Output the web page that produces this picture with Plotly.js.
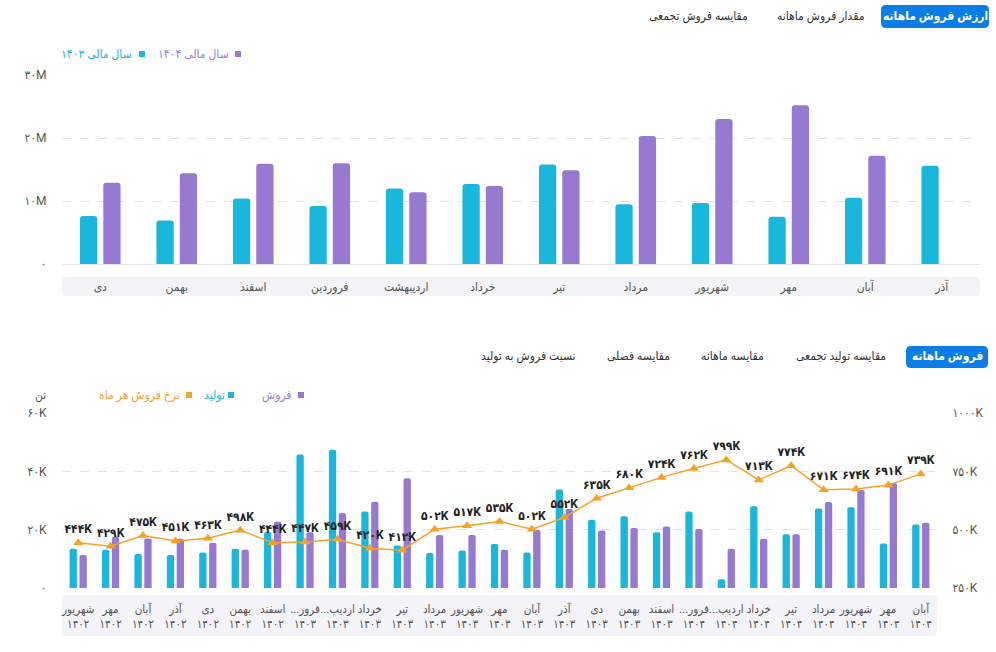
<!DOCTYPE html>
<html>
<head>
<meta charset="utf-8">
<script src="https://cdn.plot.ly/plotly-3.0.1.min.js"></script>
<style>
  html, body { margin: 0; padding: 0; background: #ffffff; }
  #chart { width: 996px; height: 652px; }
</style>
</head>
<body>
<div id="chart"></div>
<script>
// ---- Monthly sales value (million) by fiscal year ----
const valueMonths = ['دی', 'بهمن', 'اسفند', 'فروردین', 'اردیبهشت', 'خرداد', 'تیر', 'مرداد', 'شهریور', 'مهر', 'آبان', 'آذر'];
const value1403 = [7.6, 6.9, 10.4, 9.2, 12.0, 12.7, 15.8, 9.5, 9.7, 7.5, 10.5, 15.6];
const value1404 = [12.9, 14.4, 15.9, 16.0, 11.4, 12.4, 14.9, 20.3, 23.0, 25.2, 17.2, null];
const valueTicks = [0, 10, 20, 30];

// ---- Monthly production / sales (thousand tons) and sales rate ----
const periodMonths = ['شهریور', 'مهر', 'آبان', 'آذر', 'دی', 'بهمن', 'اسفند',
  '...فرور', '...اردیب', 'خرداد', 'تیر', 'مرداد', 'شهریور', 'مهر', 'آبان', 'آذر', 'دی', 'بهمن', 'اسفند',
  '...فرور', '...اردیب', 'خرداد', 'تیر', 'مرداد', 'شهریور', 'مهر', 'آبان'];
const periodYears = [1402, 1402, 1402, 1402, 1402, 1402, 1402,
  1403, 1403, 1403, 1403, 1403, 1403, 1403, 1403, 1403, 1403, 1403, 1403,
  1404, 1404, 1404, 1404, 1404, 1404, 1404, 1404];
const production = [13.5, 13.1, 11.7, 11.3, 12.2, 13.5, 19.2,
  45.8, 47.4, 26.2, 14.6, 12.0, 12.9, 15.1, 12.2, 33.8, 23.4, 24.6, 19.1,
  26.2, 3.0, 28.0, 18.4, 27.3, 27.7, 15.3, 21.8];
const sales = [11.3, 17.6, 17.0, 16.9, 15.5, 13.1, 22.7,
  19.1, 25.7, 29.6, 37.6, 18.2, 18.2, 13.1, 19.9, 27.1, 19.7, 20.6, 21.1,
  20.2, 13.5, 16.9, 18.4, 29.5, 33.6, 36.0, 22.4];
const saleRate = [444, 429, 475, 451, 463, 498, 444,
  447, 459, 420, 412, 502, 517, 535, 502, 552, 635, 680, 724,
  762, 799, 713, 774, 671, 674, 691, 739];
const tonTicks = [0, 20, 40, 60];
const rateTicks = [250, 500, 750, 1000];

// ---- helpers ----
const W = 996, H = 652;
const FONT = 'Roboto, "DejaVu Sans Condensed", "DejaVu Sans", sans-serif';
const CYAN = '#1ab7dd', PURPLE = '#9779d1', ORANGE = '#f7a227', BLUE = '#0b7de7';
const fa = s => String(s).replace(/\d/g, d => '۰۱۲۳۴۵۶۷۸۹'[d]);
const px = x => x / W;
const py = y => 1 - y / H;

// rounded rectangle in paper coordinates, given pixel corners
function roundRect(x0, y0, x1, y1, r, fill) {
  const X0 = px(x0), X1 = px(x1), Y0 = py(y0), Y1 = py(y1);
  const rx = r / W, ry = r / H;
  const path = `M ${X0 + rx},${Y0} L ${X1 - rx},${Y0} Q ${X1},${Y0} ${X1},${Y0 - ry} ` +
    `L ${X1},${Y1 + ry} Q ${X1},${Y1} ${X1 - rx},${Y1} L ${X0 + rx},${Y1} Q ${X0},${Y1} ${X0},${Y1 + ry} ` +
    `L ${X0},${Y0 - ry} Q ${X0},${Y0} ${X0 + rx},${Y0} Z`;
  return { type: 'path', xref: 'paper', yref: 'paper', path: path, fillcolor: fill, line: { width: 0 }, layer: 'below' };
}
function square(cx, cy, color) {
  return { type: 'rect', xref: 'paper', yref: 'paper', x0: px(cx - 3), x1: px(cx + 3), y0: py(cy + 3), y1: py(cy - 3),
    fillcolor: color, line: { width: 0 } };
}
function label(text, x, y, opts) {
  return Object.assign({ text: text, xref: 'paper', yref: 'paper', x: px(x), y: py(y), showarrow: false,
    xanchor: 'center', yanchor: 'middle', font: { family: FONT, size: 12, color: '#333' } }, opts || {});
}

const periodCats = periodMonths.map((m, i) => m + '<br>' + fa(periodYears[i]));

const traces = [
  { type: 'bar', name: 'سال مالی ۱۴۰۳', x: valueMonths, y: value1403, xaxis: 'x', yaxis: 'y',
    marker: { color: CYAN, cornerradius: 3 }, hoverinfo: 'y' },
  { type: 'bar', name: 'سال مالی ۱۴۰۴', x: valueMonths, y: value1404, xaxis: 'x', yaxis: 'y',
    marker: { color: PURPLE, cornerradius: 3 }, hoverinfo: 'y' },
  { type: 'bar', name: 'تولید', x: periodCats, y: production, xaxis: 'x2', yaxis: 'y2',
    marker: { color: CYAN, cornerradius: 2 }, hoverinfo: 'y' },
  { type: 'bar', name: 'فروش', x: periodCats, y: sales, xaxis: 'x2', yaxis: 'y2',
    marker: { color: PURPLE, cornerradius: 2 }, hoverinfo: 'y' },
  { type: 'scatter', name: 'نرخ فروش هر ماه', x: periodCats, y: saleRate, xaxis: 'x2', yaxis: 'y3',
    mode: 'lines+markers+text', line: { color: ORANGE, width: 1.5 },
    marker: { symbol: 'triangle-up', size: 9, color: ORANGE },
    text: saleRate.map(v => fa(v) + 'K'), textposition: 'top center',
    textfont: { family: FONT, size: 12, color: '#222', weight: 'bold' }, cliponaxis: false, hoverinfo: 'y' }
];

const tickFont = { family: FONT, size: 12, color: '#555' };
const hidden = 'rgba(0,0,0,0)';

const layout = {
  width: W, height: H,
  margin: { l: 0, r: 0, t: 0, b: 0 },
  paper_bgcolor: '#ffffff', plot_bgcolor: 'rgba(0,0,0,0)',
  showlegend: false,
  barmode: 'group', bargap: 0.39, bargroupgap: 0.26,
  font: { family: FONT },
  xaxis: { domain: [px(62), px(980)], anchor: 'y', type: 'category', range: [-0.5, 11.5],
    showgrid: false, zeroline: false, showline: false, ticks: 'outside', ticklen: 12, tickcolor: hidden,
    tickfont: tickFont, fixedrange: true },
  yaxis: { domain: [py(264), py(75)], anchor: 'x', range: [0, 30],
    tickvals: valueTicks, ticktext: valueTicks.map(v => v === 0 ? '۰' : fa(v) + 'M'),
    showgrid: true, gridcolor: '#e3e3e3', griddash: 'dash', zeroline: true, zerolinecolor: '#e6e6ea', zerolinewidth: 1,
    ticks: 'outside', ticklen: 12, tickcolor: hidden, tickfont: tickFont, fixedrange: true },
  xaxis2: { domain: [px(62), px(937)], anchor: 'y2', type: 'category', range: [-0.5, periodCats.length - 0.5],
    showgrid: false, zeroline: false, showline: false, ticks: 'outside', ticklen: 10, tickcolor: hidden,
    tickfont: { family: FONT, size: 11.5, color: '#555' }, tickangle: 0, fixedrange: true },
  yaxis2: { domain: [py(588), py(413)], anchor: 'x2', range: [0, 60],
    tickvals: tonTicks, ticktext: tonTicks.map(v => v === 0 ? '۰' : fa(v) + 'K'),
    showgrid: true, gridcolor: '#e3e3e3', griddash: 'dash', zeroline: false,
    ticks: 'outside', ticklen: 12, tickcolor: hidden, tickfont: tickFont, fixedrange: true },
  yaxis3: { overlaying: 'y2', anchor: 'x2', side: 'right', range: [250, 1000],
    tickvals: rateTicks, ticktext: rateTicks.map(v => fa(v) + 'K'),
    showgrid: false, zeroline: false, ticks: 'outside', ticklen: 12, tickcolor: hidden, tickfont: tickFont, fixedrange: true },
  shapes: [
    // category label strips
    roundRect(62, 277, 980, 296, 5, '#f3f3f8'),
    roundRect(62, 595, 937, 636, 5, '#f3f3f8'),
    // active tab buttons
    roundRect(881, 5, 989, 28, 5, BLUE),
    roundRect(906, 346, 988, 368, 5, BLUE),
    // legend swatches
    square(238, 54, PURPLE), square(142, 54, CYAN),
    square(301, 395, PURPLE), square(231, 395, CYAN), square(189, 395, ORANGE)
  ],
  annotations: [
    // top tabs
    label('<b>ارزش فروش ماهانه</b>', 935, 17, { font: { family: FONT, size: 12, color: '#ffffff' } }),
    label('مقدار فروش ماهانه', 820, 17),
    label('مقایسه فروش تجمعی', 698, 17),
    // top legend
    label('سال مالی ۱۴۰۴', 231, 54, { xanchor: 'right', font: { family: FONT, size: 12, color: '#9b82d4' } }),
    label('سال مالی ۱۴۰۳', 134, 54, { xanchor: 'right', font: { family: FONT, size: 12, color: '#22b4dc' } }),
    // bottom tabs
    label('<b>فروش ماهانه</b>', 947, 357, { font: { family: FONT, size: 12, color: '#ffffff' } }),
    label('مقایسه تولید تجمعی', 841, 356),
    label('مقایسه ماهانه', 732, 356),
    label('مقایسه فصلی', 638, 356),
    label('نسبت فروش به تولید', 528, 356),
    // bottom legend
    label('فروش', 294, 395, { xanchor: 'right', font: { family: FONT, size: 12, color: '#9b82d4' } }),
    label('تولید', 227, 395, { xanchor: 'right', font: { family: FONT, size: 12, color: '#22b4dc' } }),
    label('نرخ فروش هر ماه', 182, 395, { xanchor: 'right', font: { family: FONT, size: 12, color: '#f5a02a' } }),
    label('تن', 40, 395, { font: { family: FONT, size: 12, color: '#555' } })
  ]
};

Plotly.newPlot('chart', traces, layout, { displayModeBar: false, responsive: false });
</script>
</body>
</html>
